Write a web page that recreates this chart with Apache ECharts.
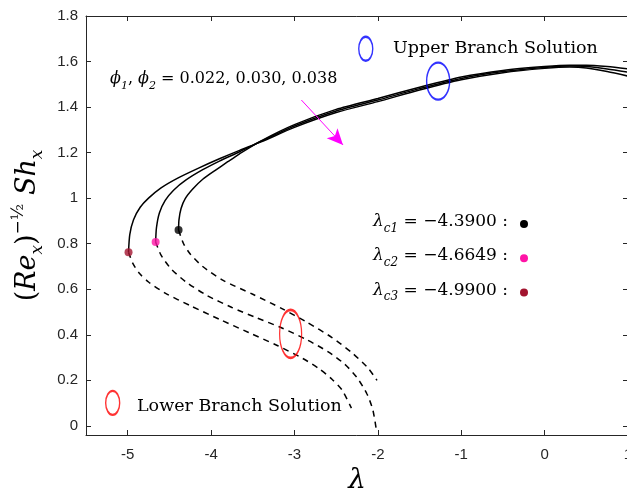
<!DOCTYPE html>
<html>
<head>
	<meta charset="utf-8">
	<title>Sherwood number branches</title>
	<style>html,body{margin:0;padding:0;background:#fff;overflow:hidden;}</style>
</head>
<body>
	<div style="width:627px;height:494px;" id="chart1"></div>

	<script src="https://cdn.jsdelivr.net/npm/echarts@6/dist/echarts.min.js"></script>
	<script>

	// upper branch (solid), one per phi value
	var upper1 = [[-4.39,0.86],[-4.385,0.905],[-4.36,0.955],[-4.31,0.998],[-4.22,1.04],[-4.1,1.083],[-3.95,1.122],[-3.8,1.16],[-3.658,1.195],[-3.4,1.252],[-3.0,1.323],[-2.5,1.39],[-2.0,1.438],[-1.5,1.487],[-1.0,1.532],[-0.5,1.561],[0,1.578],[0.3,1.584],[0.5,1.584],[0.75,1.578],[1.0,1.568]];
	var upper2 = [[-4.6649,0.808],[-4.655,0.87],[-4.62,0.935],[-4.55,0.99],[-4.45,1.035],[-4.3,1.08],[-4.1,1.125],[-3.9,1.163],[-3.658,1.204],[-3.4,1.25],[-3.0,1.317],[-2.5,1.383],[-2.0,1.431],[-1.5,1.481],[-1.0,1.526],[-0.5,1.556],[0,1.574],[0.3,1.58],[0.5,1.578],[0.75,1.567],[1.0,1.553]];
	var upper3 = [[-4.99,0.763],[-4.975,0.84],[-4.93,0.905],[-4.85,0.96],[-4.75,1.0],[-4.6,1.045],[-4.4,1.088],[-4.15,1.132],[-3.9,1.173],[-3.658,1.21],[-3.4,1.247],[-3.0,1.311],[-2.5,1.376],[-2.0,1.424],[-1.5,1.475],[-1.0,1.52],[-0.5,1.551],[0,1.57],[0.3,1.576],[0.5,1.572],[0.75,1.556],[1.0,1.536]];

	// lower branch (dashed)
	var lower1 = [[-4.39,0.86],[-4.33,0.8],[-4.25,0.755],[-4.1,0.7],[-3.85,0.638],[-3.5,0.578],[-3.15,0.515],[-2.85,0.455],[-2.55,0.388],[-2.3,0.318],[-2.12,0.255],[-2.01,0.2]];
	var lower2 = [[-4.6649,0.808],[-4.6,0.75],[-4.48,0.69],[-4.3,0.632],[-4.05,0.573],[-3.75,0.52],[-3.45,0.474],[-3.15,0.43],[-2.85,0.378],[-2.6,0.326],[-2.4,0.272],[-2.25,0.212],[-2.13,0.14],[-2.06,0.07],[-2.017,-0.02]];
	var lower3 = [[-4.99,0.763],[-4.94,0.715],[-4.86,0.67],[-4.75,0.632],[-4.55,0.583],[-4.25,0.528],[-3.9,0.468],[-3.55,0.41],[-3.2,0.352],[-2.9,0.296],[-2.7,0.25],[-2.55,0.205],[-2.43,0.158],[-2.317,0.078]];

	// critical points
	var critLambda = [-4.3900, -4.6649, -4.9900];
	var critValue = [0.860, 0.808, 0.763];
	var critLabel = ['c1', 'c2', 'c3'];
	var critColor = ['#000000', '#ff14a6', '#a2142f'];

	// branch markers (ellipses) and arrow
	var ellipseAt = [[-3.046,0.404],[-1.277,1.514],[-2.145,1.656],[-5.18,0.101]];
	var arrowFrom = [-2.917,1.431];
	var arrowTo = [-2.418,1.234];

	var serif = '"DejaVu Serif", "Liberation Serif", serif';
	var sans = '"Liberation Sans", Arial, sans-serif';
	var axisColor = '#262626';

	var chart = echarts.init(document.getElementById('chart1'));

	function lineSeries(data, dashed) {
		return {
			type: 'line', data: data, smooth: 0.25, showSymbol: false, symbol: 'none',
			xAxisIndex: 0, yAxisIndex: 0, z: 3,
			lineStyle: {color: '#000', width: 1.5, type: dashed ? [6, 5] : 'solid'}
		};
	}

	var crit = [];
	for (var i = 0; i < critLambda.length; i++) {
		crit.push({value: [critLambda[i], critValue[i]], itemStyle: {color: critColor[i]}});
	}

	var ellipseSizes = [[22, 48], [23, 37], [14, 24], [14, 24]];
	var ellipseColors = ['#ff0000', '#0000ff', '#0000ff', '#ff0000'];
	var ellipses = [];
	for (var j = 0; j < ellipseAt.length; j++) {
		ellipses.push({value: ellipseAt[j], symbolSize: ellipseSizes[j],
			itemStyle: {color: 'rgba(0,0,0,0)', borderColor: ellipseColors[j], borderWidth: 1.8}});
	}

	function richSet(size) {
		return {
			r: {fontFamily: serif, fontSize: size, color: '#000', lineHeight: 26},
			i: {fontFamily: serif, fontStyle: 'italic', fontSize: size, color: '#000', lineHeight: 26},
			s: {fontFamily: serif, fontStyle: 'italic', fontSize: Math.round(size * 0.68), color: '#000', lineHeight: 12, verticalAlign: 'bottom'}
		};
	}

	var graphics = [
		{type: 'text', left: 110, top: 71, style: {text: '{i|ϕ}{s|1}{r|, }{i|ϕ}{s|2}{r| = 0.022, 0.030, 0.038}', rich: richSet(16)}},
		{type: 'text', left: 393, top: 39, style: {text: 'Upper Branch Solution', fontFamily: serif, fontSize: 17.5, fill: '#000'}},
		{type: 'text', left: 137, top: 397, style: {text: 'Lower Branch Solution', fontFamily: serif, fontSize: 17.5, fill: '#000'}}
	];
	for (var k = 0; k < critLambda.length; k++) {
		graphics.push({type: 'text', left: 373, top: 213 + k * 34.3,
			style: {text: '{i|λ}{s|' + critLabel[k] + '}{r| = −' + Math.abs(critLambda[k]).toFixed(4) + ' :}', rich: richSet(17)}});
		graphics.push({type: 'circle', shape: {cx: 524, cy: 224 + k * 34.3, r: 4}, style: {fill: critColor[k]}});
	}

	var option = {
		animation: false,
		grid: {left: 86, top: 16, width: 542, height: 419, outerBoundsMode: 'none', containLabel: false},
		xAxis: [{
			type: 'value', min: -5.5, max: 1, splitNumber: 7,
			name: 'λ', nameLocation: 'middle', nameGap: 30,
			nameTextStyle: {fontFamily: serif, fontStyle: 'italic', fontSize: 28, color: '#000'},
			axisLine: {onZero: false, lineStyle: {color: axisColor}},
			axisTick: {inside: true, length: 5, lineStyle: {color: axisColor}},
			axisLabel: {fontFamily: sans, fontSize: 15, color: axisColor, margin: 12, showMinLabel: false},
			splitLine: {show: false}
		}, {
			type: 'value', min: -5.5, max: 1, splitNumber: 7, position: 'top',
			axisLine: {onZero: false, lineStyle: {color: axisColor}},
			axisTick: {inside: true, length: 5, lineStyle: {color: axisColor}},
			axisLabel: {show: false}, splitLine: {show: false}
		}],
		yAxis: [{
			type: 'value', min: -0.04, max: 1.8, splitNumber: 9,
			name: '{r|(}{i|Re}{s|x}{r|)}{p|−½}{i| Sh}{s|x}', nameLocation: 'middle', nameGap: 38, nameRotate: 90,
			nameTextStyle: {
				rich: {
					r: {fontFamily: serif, fontSize: 27, color: '#000', lineHeight: 36},
					i: {fontFamily: serif, fontStyle: 'italic', fontSize: 27, color: '#000', lineHeight: 36},
					s: {fontFamily: serif, fontStyle: 'italic', fontSize: 17, color: '#000', lineHeight: 16, verticalAlign: 'bottom'},
					p: {fontFamily: serif, fontSize: 17, color: '#000', lineHeight: 16, verticalAlign: 'top'}
				}
			},
			axisLine: {show: true, onZero: false, lineStyle: {color: axisColor}},
			axisTick: {show: true, inside: true, length: 5, lineStyle: {color: axisColor}},
			axisLabel: {fontFamily: sans, fontSize: 15, color: axisColor, margin: 8, showMinLabel: false},
			splitLine: {show: false}
		}, {
			type: 'value', min: -0.04, max: 1.8, splitNumber: 9, position: 'right',
			axisLine: {show: true, onZero: false, lineStyle: {color: axisColor}},
			axisTick: {show: true, inside: true, length: 5, lineStyle: {color: axisColor}},
			axisLabel: {show: false}, splitLine: {show: false}
		}],
		series: [
			lineSeries(upper1, false),
			lineSeries(upper2, false),
			lineSeries(upper3, false),
			lineSeries(lower1, true),
			lineSeries(lower2, true),
			lineSeries(lower3, true),
			{
				type: 'scatter', data: crit, symbol: 'circle', symbolSize: 8, z: 5,
				xAxisIndex: 0, yAxisIndex: 0
			},
			{
				type: 'scatter', data: ellipses, symbol: 'circle', z: 6, silent: true,
				xAxisIndex: 0, yAxisIndex: 0,
				markLine: {
					silent: true, symbol: ['none', 'arrow'], symbolSize: [11, 16],
					label: {show: false},
					lineStyle: {color: '#ff00ff', width: 1, type: 'solid'},
					data: [[{coord: arrowFrom}, {coord: arrowTo}]]
				}
			}
		],
		graphic: graphics
	};

	chart.setOption(option);

	</script>
</body>
</html>
